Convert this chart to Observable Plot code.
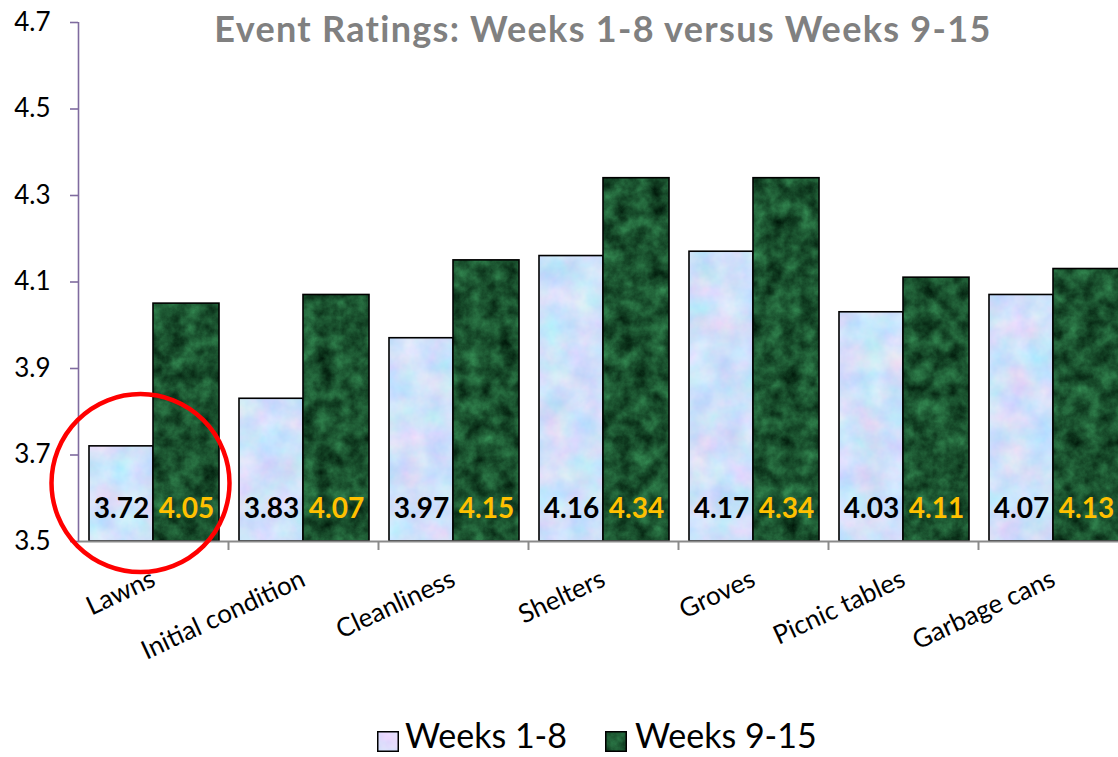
<!DOCTYPE html>
<html>
<head>
<meta charset="utf-8">
<script src="https://cdn.jsdelivr.net/npm/d3@7"></script>
<script src="https://cdn.jsdelivr.net/npm/@observablehq/plot@0.6"></script>
<style>
  html, body { margin: 0; padding: 0; background: #fff; overflow: hidden; }
  #wrap { position: relative; width: 1118px; height: 757px; font-family: Lato, "Open Sans", sans-serif; overflow: hidden; }
  #title { position: absolute; left: 78px; width: 1050px; top: 7px; text-align: center; font-weight: 700; font-size: 36px; letter-spacing: 1.3px; line-height: 1.2; color: #808080; white-space: nowrap; }
  #chart { position: absolute; left: 0; top: 0; }
  .sw { position: absolute; top: 731px; }
  .lt { position: absolute; top: 715px; font-size: 34px; line-height: 1.2; color: #000; white-space: nowrap; }
</style>
</head>
<body>
<svg width="0" height="0" style="position:absolute">
  <defs>
    <filter id="noiseBlue" x="0" y="0" width="1200" height="800" filterUnits="userSpaceOnUse" primitiveUnits="userSpaceOnUse" color-interpolation-filters="sRGB">
      <feTurbulence type="fractalNoise" baseFrequency="0.035" numOctaves="4" seed="5"/>
      <feColorMatrix type="matrix" values="0.3 0 0 0 0.66  0 0.18 0 0 0.79  0 0 0.08 0 0.94  0 0 0 0 1"/>
    </filter>
    <filter id="noiseGreen" x="0" y="0" width="1200" height="800" filterUnits="userSpaceOnUse" primitiveUnits="userSpaceOnUse" color-interpolation-filters="sRGB">
      <feTurbulence type="fractalNoise" baseFrequency="0.06" numOctaves="5" seed="11"/>
      <feColorMatrix type="matrix" values="0 0.25 0 0 -0.02  0 0.55 0 0 0.05  0 0.35 0 0 0.01  0 0 0 0 1"/>
    </filter>
    <pattern id="texBlue" patternUnits="userSpaceOnUse" x="0" y="0" width="1200" height="800">
      <rect width="1200" height="800" filter="url(#noiseBlue)"/>
    </pattern>
    <pattern id="texGreen" patternUnits="userSpaceOnUse" x="0" y="0" width="1200" height="800">
      <rect width="1200" height="800" filter="url(#noiseGreen)"/>
    </pattern>
  </defs>
</svg>
<div id="wrap">
  <div id="chart"></div>
  <div id="title">Event Ratings: Weeks 1-8 versus Weeks 9-15</div>
  <div id="legend"></div>
</div>
<script>
// ---- data ----
const categories = ["Lawns", "Initial condition", "Cleanliness", "Shelters", "Groves", "Picnic tables", "Garbage cans"];
const weeks1to8 = [3.72, 3.83, 3.97, 4.16, 4.17, 4.03, 4.07];
const weeks9to15 = [4.05, 4.07, 4.15, 4.34, 4.34, 4.11, 4.13];
const yTicks = [3.5, 3.7, 3.9, 4.1, 4.3, 4.5, 4.7];
const seriesNames = ["Weeks 1-8", "Weeks 9-15"];
const highlight = [{category: "Lawns", value: 3.635}];

const baseline = yTicks[0];
const rows1 = categories.map((c, i) => ({category: c, value: weeks1to8[i]}));
const rows2 = categories.map((c, i) => ({category: c, value: weeks9to15[i]}));

const blueFill = "url(#texBlue)";
const greenFill = "url(#texGreen)";
const purple = "#7f6b9f";
const grey = "#8a8a8a";

const chart = Plot.plot({
  width: 1118,
  height: 700,
  marginLeft: 78,
  marginRight: 0,
  marginTop: 22,
  marginBottom: 159,
  style: {fontFamily: "Lato, 'Open Sans', sans-serif", background: "transparent", overflow: "visible"},
  x: {domain: categories, range: [78, 1128], padding: 0, align: 0},
  y: {domain: [yTicks[0], yTicks[yTicks.length - 1]]},
  marks: [
    Plot.barY(rows1, {x: "category", y1: () => baseline, y2: "value", fill: blueFill, stroke: "#000", strokeWidth: 1.6, insetLeft: 11, insetRight: 75}),
    Plot.barY(rows2, {x: "category", y1: () => baseline, y2: "value", fill: greenFill, stroke: "#000", strokeWidth: 1.6, insetLeft: 75, insetRight: 9}),
    Plot.text(rows1, {x: "category", y: () => baseline, text: d => d.value.toFixed(2), dx: -32, dy: -32, fontSize: 28, fontWeight: 700, fill: "#000", lineAnchor: "middle"}),
    Plot.text(rows2, {x: "category", y: () => baseline, text: d => d.value.toFixed(2), dx: 33, dy: -32, fontSize: 28, fontWeight: 700, fill: "#ffc000", lineAnchor: "middle"}),
    Plot.ruleY([baseline], {stroke: grey, strokeWidth: 2}),
    Plot.ruleX(categories.slice(0, -1), {x: d => d, dx: 75, y1: () => baseline, y2: () => baseline, insetBottom: -9, stroke: grey, strokeWidth: 2}),
    Plot.ruleX([categories[0]], {x: d => d, dx: -75, y1: () => yTicks[0], y2: () => yTicks[yTicks.length - 1], stroke: purple, strokeWidth: 1.6}),
    Plot.axisY({ticks: yTicks, tickFormat: d => d.toFixed(1), tickSize: 8, tickPadding: 20, fontSize: 26, stroke: purple, strokeWidth: 1.6, color: "#000", label: null}),
    Plot.axisX({tickSize: 0, tickPadding: 36, tickRotate: -25, fontSize: 26, color: "#000", label: null}),
    Plot.dot(highlight, {x: "category", y: "value", dx: -13, r: 89, stroke: "#ff0000", strokeWidth: 4.5, fill: "none"})
  ]
});
document.getElementById("chart").appendChild(chart);

// ---- legend ----
const legend = document.getElementById("legend");
const legendItems = [
  {name: seriesNames[0], fill: blueFill, box: 377, text: 405},
  {name: seriesNames[1], fill: greenFill, box: 605, text: 635}
];
legendItems.forEach(it => {
  const sw = document.createElement("div");
  sw.className = "sw";
  sw.style.left = it.box + "px";
  sw.innerHTML = `<svg width="22" height="21" style="display:block"><rect x="0.75" y="0.75" width="20.5" height="19.5" fill="${it.fill}" stroke="#000" stroke-width="1.5"/></svg>`;
  legend.appendChild(sw);
  const t = document.createElement("div");
  t.className = "lt";
  t.style.left = it.text + "px";
  t.textContent = it.name;
  legend.appendChild(t);
});
</script>
</body>
</html>
